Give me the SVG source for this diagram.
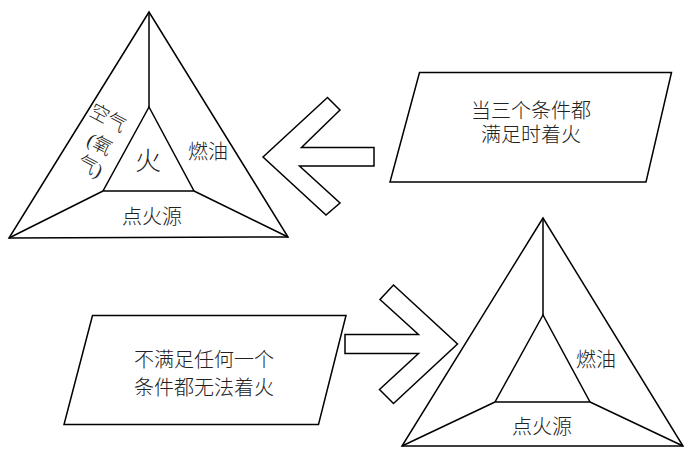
<svg xmlns="http://www.w3.org/2000/svg" width="690" height="460" viewBox="0 0 690 460">
<style>
.s{fill:#fff;stroke:#000;stroke-width:1.5;stroke-linejoin:miter}
.l{fill:none;stroke:#000;stroke-width:1.5}
.t{font-family:"Liberation Serif","Noto Sans CJK SC",serif;font-size:20px;font-weight:300;fill:#222;text-anchor:middle;dominant-baseline:central}
.r{font-size:19px}
</style>
<rect width="690" height="460" fill="#fff"/>
<g id="triangle1">
<polygon class="s" points="149,12 9,238 288,237"/>
<polygon class="s" points="149,107 103,191 194,191"/>
<path class="l" d="M149,12 L149,107 M103,191 L9,238 M194,191 L288,237"/>
<text class="t" x="148" y="161" style="font-size:26px">火</text>
<text class="t" x="208" y="152">燃油</text>
<text class="t" x="152" y="217">点火源</text>
<g transform="translate(108,118) rotate(28)">
<text class="t r" x="0" y="0">空气</text>
<text class="t r" x="5" y="27">(氧</text>
<text class="t r" x="7" y="51">气)</text>
</g>
</g>
<g id="triangle2">
<polygon class="s" points="543,218 402,446 683,446"/>
<polygon class="s" points="543,315 495,402 590,402"/>
<path class="l" d="M543,218 L543,315 M495,402 L402,446 M590,402 L683,446"/>
<text class="t" x="596" y="360">燃油</text>
<text class="t" x="542" y="427">点火源</text>
</g>
<g id="box1">
<polygon class="s" points="419.5,72.5 671.5,72.5 646,182 390,182"/>
<text class="t" x="531" y="111">当三个条件都</text>
<text class="t" x="531" y="135">满足时着火</text>
</g>
<g id="box2">
<polygon class="s" points="92.5,315.5 346,315.5 318.5,424.5 64,424.5"/>
<text class="t" x="204" y="360">不满足任何一个</text>
<text class="t" x="204" y="388">条件都无法着火</text>
</g>
<g id="connectors">
<polygon class="s" points="263,157 327.5,97.5 340,110 301.5,147.5 374,147.5 374,166 299.5,166 340,203 326,215"/>
<polygon class="s" points="345,334.5 418.5,334.5 380,299.5 393.5,285 457.5,344 393.5,403.5 379.5,389.5 418.5,353.5 345,353.5"/>
</g>
</svg>
